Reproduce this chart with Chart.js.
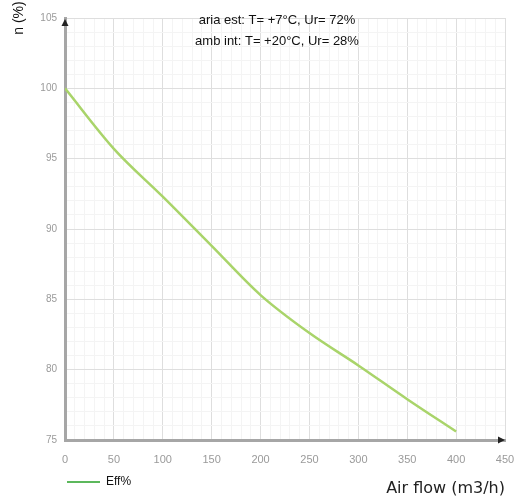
<!DOCTYPE html>
<html>
<head>
    <title>Efficiency vs Air flow</title>
    <script src="https://cdn.jsdelivr.net/npm/chart.js"></script>
    <style>
        body { margin: 0; background: #fff; }
    </style>
</head>
<body>
    <canvas id="effChart" width="517" height="499"></canvas>
    <script>
        // values
        const airFlow = [0, 50, 100, 150, 200, 250, 300, 350, 400];
        const efficiency = [100, 95.7, 92.3, 88.8, 85.3, 82.6, 80.3, 77.9, 75.6];
        const seriesName = 'Eff%';
        const yTitle = 'n (%)';
        const xTitle = 'Air flow (m3/h)';
        const notes = ['aria est: T= +7°C, Ur= 72%', 'amb int: T= +20°C, Ur= 28%'];

        // arrows on the axes and the conditions text in the plot
        const overlay = {
            id: 'overlay',
            afterDraw(chart) {
                const { ctx, chartArea: { left, top, right, bottom } } = chart;
                ctx.save();
                ctx.fillStyle = '#222';
                ctx.beginPath();
                ctx.moveTo(left, top + 1);
                ctx.lineTo(left - 3.5, top + 8);
                ctx.lineTo(left + 3.5, top + 8);
                ctx.closePath();
                ctx.fill();
                ctx.beginPath();
                ctx.moveTo(right, bottom);
                ctx.lineTo(right - 7, bottom - 3.5);
                ctx.lineTo(right - 7, bottom + 3.5);
                ctx.closePath();
                ctx.fill();

                ctx.fillStyle = '#111';
                ctx.font = '13px "Liberation Sans", Arial, sans-serif';
                ctx.textAlign = 'center';
                ctx.textBaseline = 'middle';
                notes.forEach((t, i) => ctx.fillText(t, 277, 20 + i * 21));

                ctx.translate(19, 18);
                ctx.rotate(-Math.PI / 2);
                ctx.font = '14px "Liberation Sans", Arial, sans-serif';
                ctx.fillText(yTitle, 0, 0);
                ctx.restore();
            }
        };

        const ctx = document.getElementById('effChart').getContext('2d');
        const effChart = new Chart(ctx, {
            type: 'line',
            data: {
                datasets: [{
                    label: seriesName,
                    data: airFlow.map((x, i) => ({ x: x, y: efficiency[i] })),
                    borderColor: '#a9d46a',
                    backgroundColor: '#5cb85c',
                    borderWidth: 2.5,
                    pointRadius: 0,
                    tension: 0.4,
                    cubicInterpolationMode: 'monotone',
                    fill: false
                }]
            },
            options: {
                responsive: false,
                animation: false,
                font: { family: '"Liberation Sans", Arial, sans-serif' },
                layout: { padding: { left: 0, top: 18, right: 12, bottom: 1 } },
                scales: {
                    x: {
                        type: 'linear',
                        min: 0,
                        max: 450,
                        afterFit: s => { s.height = 34; },
                        border: { color: '#a6a6a6', width: 3 },
                        grid: {
                            drawTicks: true,
                            tickLength: 13,
                            tickColor: 'transparent',
                            color: c => c.tick.value % 50 === 0 ? '#dedede' : '#f4f4f4'
                        },
                        ticks: {
                            stepSize: 10,
                            autoSkip: false,
                            maxRotation: 0,
                            padding: 0,
                            color: '#9a9a9a',
                            font: { size: 11 },
                            callback: v => v % 50 === 0 ? v : ''
                        },
                        title: {
                            display: true,
                            text: xTitle,
                            align: 'end',
                            color: '#222',
                            font: { family: '"DejaVu Sans", sans-serif', size: 16 },
                            padding: { top: 0, bottom: -24 }
                        }
                    },
                    y: {
                        min: 75,
                        max: 105,
                        afterFit: s => { s.width = 65; },
                        border: { color: '#a6a6a6', width: 3 },
                        grid: {
                            drawTicks: false,
                            color: c => c.tick.value % 5 === 0 ? '#dedede' : '#f4f4f4'
                        },
                        ticks: {
                            stepSize: 1,
                            autoSkip: false,
                            padding: 8,
                            color: '#9a9a9a',
                            font: { size: 10 },
                            callback: v => v % 5 === 0 ? v : ''
                        }
                    }
                },
                plugins: {
                    tooltip: { enabled: false },
                    legend: {
                        position: 'bottom',
                        align: 'start',
                        fullSize: false,
                        labels: {
                            boxWidth: 33,
                            boxHeight: 2,
                            padding: 2,
                            color: '#111',
                            font: { size: 12 },
                            generateLabels: chart => Chart.defaults.plugins.legend.labels.generateLabels(chart)
                                .map(l => Object.assign(l, { lineWidth: 0, strokeStyle: l.fillStyle }))
                        }
                    }
                }
            },
            plugins: [overlay]
        });
    </script>
</body>
</html>
